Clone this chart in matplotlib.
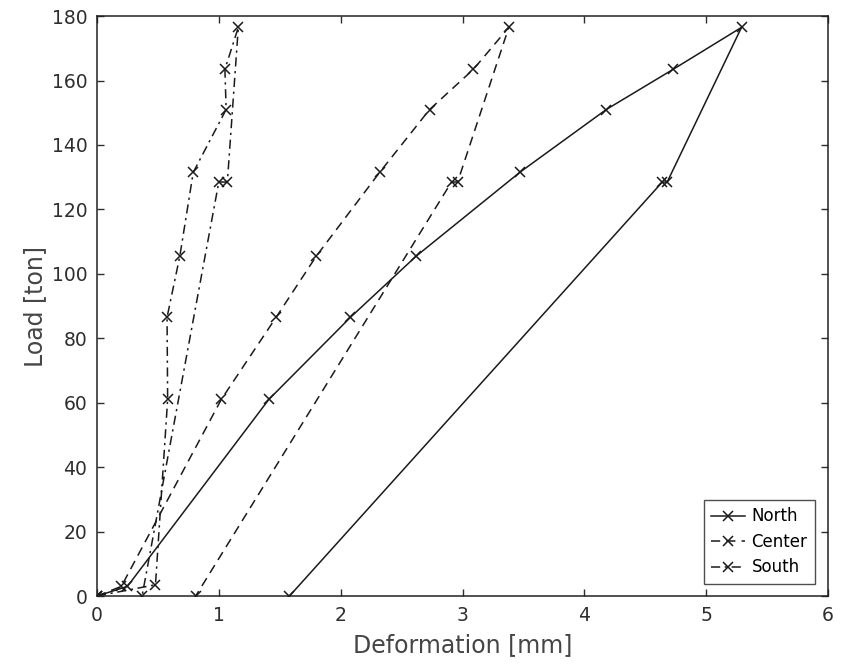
import matplotlib
matplotlib.use("Agg")
import matplotlib.pyplot as plt

plt.rcParams['font.family'] = ['DejaVu Sans']

north_x = [0, 0.25, 1.41, 2.08, 2.62, 3.47, 4.18, 4.73, 5.29, 4.68, 4.64, 1.58]
north_y = [0, 3, 61, 86.5, 105.5, 131.5, 151, 163.5, 176.5, 128.5, 128.5, 0]

center_x = [0, 0.20, 1.02, 1.47, 1.80, 2.32, 2.73, 3.09, 3.38, 2.96, 2.91, 0.81]
center_y = [0, 3, 61, 86.5, 105.5, 131.5, 151, 163.5, 176.5, 128.5, 128.5, 0]

south_x = [0, 0.48, 0.58, 0.575, 0.68, 0.79, 1.06, 1.05, 1.16, 1.07, 1.00, 0.37]
south_y = [0, 3.5, 61, 86.5, 105.5, 131.5, 151, 163.5, 176.5, 128.5, 128.5, 0]

xticks = [0, 1, 2, 3, 4, 5, 6]
yticks = [0, 20, 40, 60, 80, 100, 120, 140, 160, 180]

fig = plt.figure(figsize=(8.47, 6.70), dpi=100)
ax = fig.add_axes([0.1145, 0.1104, 0.8631, 0.8656])

mk = dict(marker='x', markersize=7, markeredgewidth=1.1, color='#1a1a1a', linewidth=1.1)
ax.plot(north_x, north_y, linestyle='-', label='North', **mk)
ax.plot(center_x, center_y, linestyle=(0, (6, 4)), label='Center', **mk)
ax.plot(south_x, south_y, linestyle=(0, (6, 3, 1.5, 3)), label='South', **mk)

ax.set_xlim(0, 6)
ax.set_ylim(0, 180)
ax.set_xticks(xticks)
ax.set_yticks(yticks)
ax.tick_params(direction='in', length=5, width=1, labelsize=13.5, colors='#2e2e2e',
               top=True, right=True, labeltop=False, labelright=False, pad=7)
for s in ax.spines.values():
    s.set_linewidth(1.1)
    s.set_color('#222222')

ax.set_xlabel('Deformation [mm]', fontsize=17, color='#454545', labelpad=6)
ax.set_ylabel('Load [ton]', fontsize=17, color='#454545', labelpad=3)

leg = ax.legend(loc='lower right', fontsize=12, frameon=True, fancybox=False,
                edgecolor='#222222', handlelength=2.0, handletextpad=0.4,
                borderpad=0.45, labelspacing=0.45, borderaxespad=0,
                bbox_to_anchor=(0.982, 0.021))
leg.get_frame().set_linewidth(1.0)

fig.savefig('out.png', dpi=100)
